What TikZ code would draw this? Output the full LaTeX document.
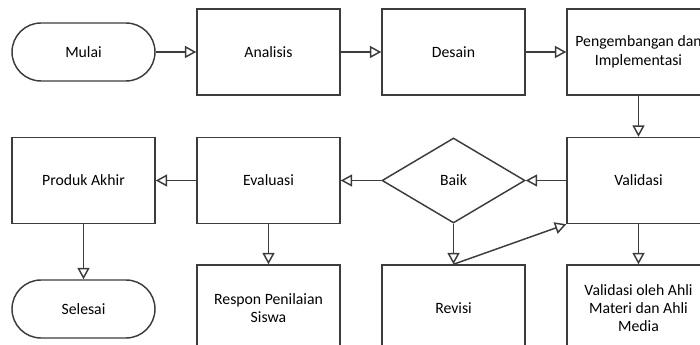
\documentclass[tikz,border=0pt]{standalone}
\usepackage{fontspec}
\setmainfont{Carlito}
\usepackage{tikz}
\usetikzlibrary{arrows.meta,shapes.geometric}

\definecolor{linegray}{HTML}{3C3C3C}

\tikzset{
  box/.style={draw=linegray, line width=1.1pt, minimum width=107.25pt, minimum height=64.5pt,
    inner sep=2pt, align=center, font=\fontsize{11.8}{13.8}\selectfont},
  term/.style={box, minimum height=43.5pt, rounded corners=21.75pt},
  cond/.style={box, diamond, minimum height=63.75pt, inner sep=0pt},
  flow/.style={draw=linegray, line width=1.1pt, -{Triangle[open, length=8.5pt, width=9pt]}}
}

\begin{document}
\begin{tikzpicture}[x=0.75pt, y=-0.75pt]
        \clip (0,0) rectangle (700,345);
        \useasboundingbox (0,0) rectangle (700,345);

        % First row
        \node[term] (mulai) at (83.5,52) {Mulai};
        \node[box] (analisis) at (268.5,52) {Analisis};
        \node[box] (desain) at (453.5,52) {Desain};
        \node[box] (pengembangan) at (638.5,52) {Pengembangan dan\\Implementasi};

        % Second row
        \node[box] (produk) at (83.5,180.5) {Produk Akhir};
        \node[box] (evaluasi) at (268.5,180.5) {Evaluasi};
        \node[cond] (baik) at (453.5,180.5) {Baik};
        \node[box] (validasi) at (638.5,180.5) {Validasi};

        % Third row
        \node[term] (selesai) at (83.5,309) {Selesai};
        \node[box] (respon) at (268.5,308) {Respon Penilaian\\Siswa};
        \node[box] (revisi) at (453.5,308) {Revisi};
        \node[box] (valahli) at (638.5,308) {Validasi oleh Ahli\\Materi dan Ahli\\Media};

        % Arrows
        \draw[flow] (mulai) -- (analisis);
        \draw[flow] (analisis) -- (desain);
        \draw[flow] (desain) -- (pengembangan);
        \draw[flow] (pengembangan) -- (validasi);
        \draw[flow] (validasi) -- (baik);
        \draw[flow] (baik) -- (evaluasi);
        \draw[flow] (evaluasi) -- (produk);
        \draw[flow] (produk) -- (selesai);
        \draw[flow] (evaluasi) -- (respon);
        \draw[flow] (baik) -- (revisi);
        \draw[flow] (validasi) -- (valahli);
        % back from Revisi
        \draw[flow] (revisi.north) -- (validasi.south west);
    \end{tikzpicture}
\end{document}
